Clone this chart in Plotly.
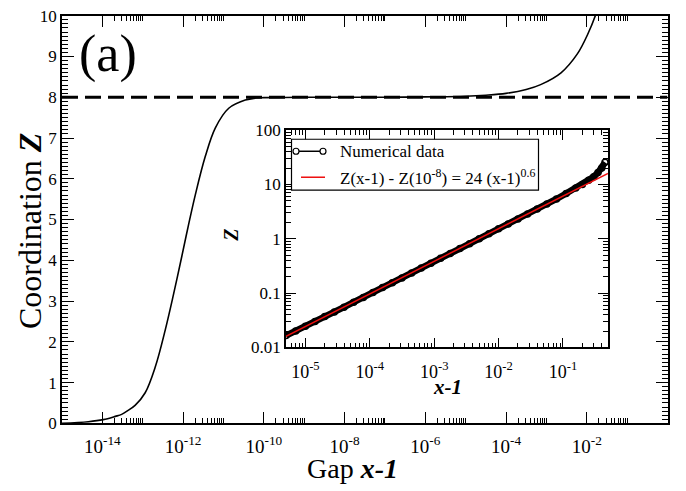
import numpy as np
import plotly.graph_objects as go

W, H = 686, 491
FONT = "Liberation Serif"


def px(x):
    return x / W


def py(y):
    return 1 - y / H


# ---------------- data: main panel ----------------
gap = [1.0e-15, 4.5e-15, 1.05e-14, 2.09e-14, 3.0e-14, 4.07e-14, 6.46e-14, 1.15e-13,
       2.04e-13, 3.63e-13, 5.75e-13, 9.3e-13, 1.35e-12, 2.0e-12, 3.55e-12, 6.3e-12,
       1.35e-11, 3.47e-11, 6.2e-11, 1e-10, 1e-9, 1e-8, 1e-7, 1e-6, 1e-5, 3.16e-5,
       1e-4, 3.16e-4, 7.2e-4, 2.3e-3, 5.9e-3, 1.05e-2, 1.7e-2, 2.5e-2]
coord = [0.0, 0.04, 0.09, 0.17, 0.22, 0.3, 0.44, 0.75,
         1.38, 2.3, 3.15, 4.1, 4.85, 5.6, 6.55, 7.25,
         7.73, 7.93, 7.98, 7.99, 8.0, 8.0, 8.0, 8.01, 8.025, 8.05,
         8.095, 8.19, 8.31, 8.6, 9.07, 9.54, 10.05, 10.6]
iso_gap = [1e-15, 1.0]
iso_z = [8, 8]

main_xticks = [1e-14, 1e-12, 1e-10, 1e-8, 1e-6, 1e-4, 1e-2]
main_xlabels = ["10<sup>-14</sup>", "10<sup>-12</sup>", "10<sup>-10</sup>", "10<sup>-8</sup>",
                "10<sup>-6</sup>", "10<sup>-4</sup>", "10<sup>-2</sup>"]
main_yticks = list(range(0, 11))

# ---------------- data: inset ----------------
inset_gap = [5e-6, 7.08e-6, 1e-5, 1.41e-5, 2e-5, 2.82e-5, 3.98e-5, 5.62e-5, 7.94e-5,
             1.12e-4, 1.58e-4, 2.24e-4, 3.16e-4, 4.47e-4, 6.31e-4, 8.91e-4, 1.26e-3,
             1.78e-3, 2.51e-3, 3.55e-3, 5.01e-3, 7.08e-3, 1e-2, 1.41e-2, 2e-2, 2.82e-2,
             3.98e-2, 5.62e-2, 7.94e-2, 0.112, 0.158, 0.2, 0.25, 0.3, 0.35, 0.4, 0.45]
inset_dz = [0.0165, 0.020, 0.0245, 0.030, 0.037, 0.045, 0.055, 0.068, 0.083,
            0.102, 0.126, 0.155, 0.19, 0.234, 0.288, 0.355, 0.437,
            0.537, 0.66, 0.81, 1.0, 1.23, 1.52, 1.87, 2.31, 2.86,
            3.52, 4.36, 5.4, 6.8, 8.6, 10.0, 11.9, 13.9, 16.5, 20.0, 25.5]
fit_gap = [5e-6, 0.5]
fit_dz = [0.016, 16.0]

inset_xticks = [1e-5, 1e-4, 1e-3, 1e-2, 1e-1]
inset_xlabels = ["10<sup>-5</sup>", "10<sup>-4</sup>", "10<sup>-3</sup>", "10<sup>-2</sup>",
                 "10<sup>-1</sup>"]
inset_yticks = [0.01, 0.1, 1, 10, 100]
inset_ylabels = ["0.01", "0.1", "1", "10", "100"]

legend_names = ["Numerical data",
                "Z(x-1) - Z(10<sup>-8</sup>) = 24 (x-1)<sup>0.6</sup>"]

# minor ticks (grace style: only in the decade following each major tick)
main_xminor = [k * t for t in main_xticks for k in range(2, 11)]
inset_xminor = [k * 10.0 ** e for e in range(-6, 0) for k in range(2, 10)]
inset_xminor = [v for v in inset_xminor if 5e-6 < v < 0.5]
inset_yminor = [k * 10.0 ** e for e in range(-2, 2) for k in range(2, 10)]

fig = go.Figure()

fig.add_trace(go.Scatter(x=gap, y=coord, mode="lines",
                         line=dict(color="black", width=1.6, shape="spline", smoothing=1.0),
                         xaxis="x", yaxis="y", showlegend=False))
fig.add_trace(go.Scatter(x=iso_gap, y=iso_z, mode="lines",
                         line=dict(color="black", width=3, dash="16px,7px"),
                         xaxis="x", yaxis="y", showlegend=False))

fig.add_trace(go.Scatter(x=inset_gap, y=inset_dz, mode="lines+markers",
                         line=dict(color="black", width=6.5),
                         marker=dict(symbol="circle-open", size=6, color="black",
                                     line=dict(width=1.5)),
                         xaxis="x2", yaxis="y2", showlegend=False, name=legend_names[0]))
fig.add_trace(go.Scatter(x=fit_gap, y=fit_dz, mode="lines",
                         line=dict(color="#ee1111", width=1.5),
                         xaxis="x2", yaxis="y2", showlegend=False, name=legend_names[1]))

axis_common = dict(showline=True, linecolor="black", linewidth=1.5, mirror="ticks",
                   showgrid=False, zeroline=False, ticks="inside", tickcolor="black",
                   tickwidth=1, tickfont=dict(family=FONT, size=17, color="black"))

fig.update_layout(
    width=W, height=H,
    margin=dict(l=0, r=0, t=0, b=0),
    paper_bgcolor="white", plot_bgcolor="white",
    font=dict(family=FONT, color="black", size=17),
    showlegend=False,
    xaxis=dict(axis_common, type="log", range=[-15, 0],
               domain=[px(62), px(667.5)], anchor="y",
               tickmode="array", tickvals=main_xticks, ticktext=main_xlabels, ticklen=12,
               tickfont=dict(family=FONT, size=19, color="black"), ticklabelstandoff=5,
               minor=dict(tickmode="array", tickvals=main_xminor, ticks="inside",
                          ticklen=6, tickcolor="black", tickwidth=1)),
    yaxis=dict(axis_common, range=[0, 10],
               domain=[py(431), py(7)], anchor="x",
               tickmode="array", tickvals=main_yticks, ticklen=12,
               minor=dict(dtick=0.1, ticks="inside", ticklen=6,
                          tickcolor="black", tickwidth=1)),
    xaxis2=dict(axis_common, type="log", range=[np.log10(5e-6), np.log10(0.5)],
                domain=[px(286), px(608)], anchor="y2",
                tickmode="array", tickvals=inset_xticks, ticktext=inset_xlabels, ticklen=10,
                tickfont=dict(family=FONT, size=18, color="black"), ticklabelstandoff=7,
                minor=dict(tickmode="array", tickvals=inset_xminor, ticks="inside",
                           ticklen=5, tickcolor="black", tickwidth=1)),
    yaxis2=dict(axis_common, type="log", range=[-2, 2],
                domain=[py(352), py(126)], anchor="x2",
                tickmode="array", tickvals=inset_yticks, ticktext=inset_ylabels, ticklen=10,
                tickfont=dict(family=FONT, size=17, color="black"),
                minor=dict(tickmode="array", tickvals=inset_yminor, ticks="inside",
                           ticklen=5, tickcolor="black", tickwidth=1)),
)

# ---------------- legend of inset (grace style) ----------------
shapes = [
    dict(type="rect", xref="paper", yref="paper", x0=px(291.5), x1=px(538.5),
         y0=py(188.5), y1=py(135.5), line=dict(color="black", width=1.2), fillcolor="white"),
    dict(type="line", xref="paper", yref="paper", x0=px(296), x1=px(323),
         y0=py(148), y1=py(148), line=dict(color="black", width=1.5)),
    dict(type="line", xref="paper", yref="paper", x0=px(301), x1=px(325),
         y0=py(175), y1=py(175), line=dict(color="#ee1111", width=1.5)),
]
for cx in (296, 323):
    shapes.append(dict(type="circle", xref="paper", yref="paper",
                       xsizemode="pixel", ysizemode="pixel",
                       xanchor=px(cx), yanchor=py(148), x0=-3, x1=3, y0=-3, y1=3,
                       line=dict(color="black", width=1.2), fillcolor="white"))
fig.update_layout(shapes=shapes)

ann = [
    dict(text="(a)", x=px(108), y=py(47), font=dict(size=52)),
    dict(text="Coordination <b><i>Z</i></b>", x=px(30), y=py(231), textangle=-90,
         font=dict(size=32)),
    dict(text="Gap <b><i>x-1</i></b>", x=px(352), y=py(478), font=dict(size=28)),
    dict(text="<b><i>Z</i></b>", x=px(231), y=py(236), textangle=-90, font=dict(size=20)),
    dict(text="<b><i>x-1</i></b>", x=px(448), y=py(393), font=dict(size=21)),
    dict(text=legend_names[0], x=px(338), y=py(148), xanchor="left", font=dict(size=17)),
    dict(text=legend_names[1], x=px(338), y=py(175), xanchor="left", font=dict(size=17)),
]
for a in ann:
    a.setdefault("xanchor", "center")
    a.update(xref="paper", yref="paper", showarrow=False, yanchor="middle")
fig.update_layout(annotations=ann)

fig.write_html("out.html")
